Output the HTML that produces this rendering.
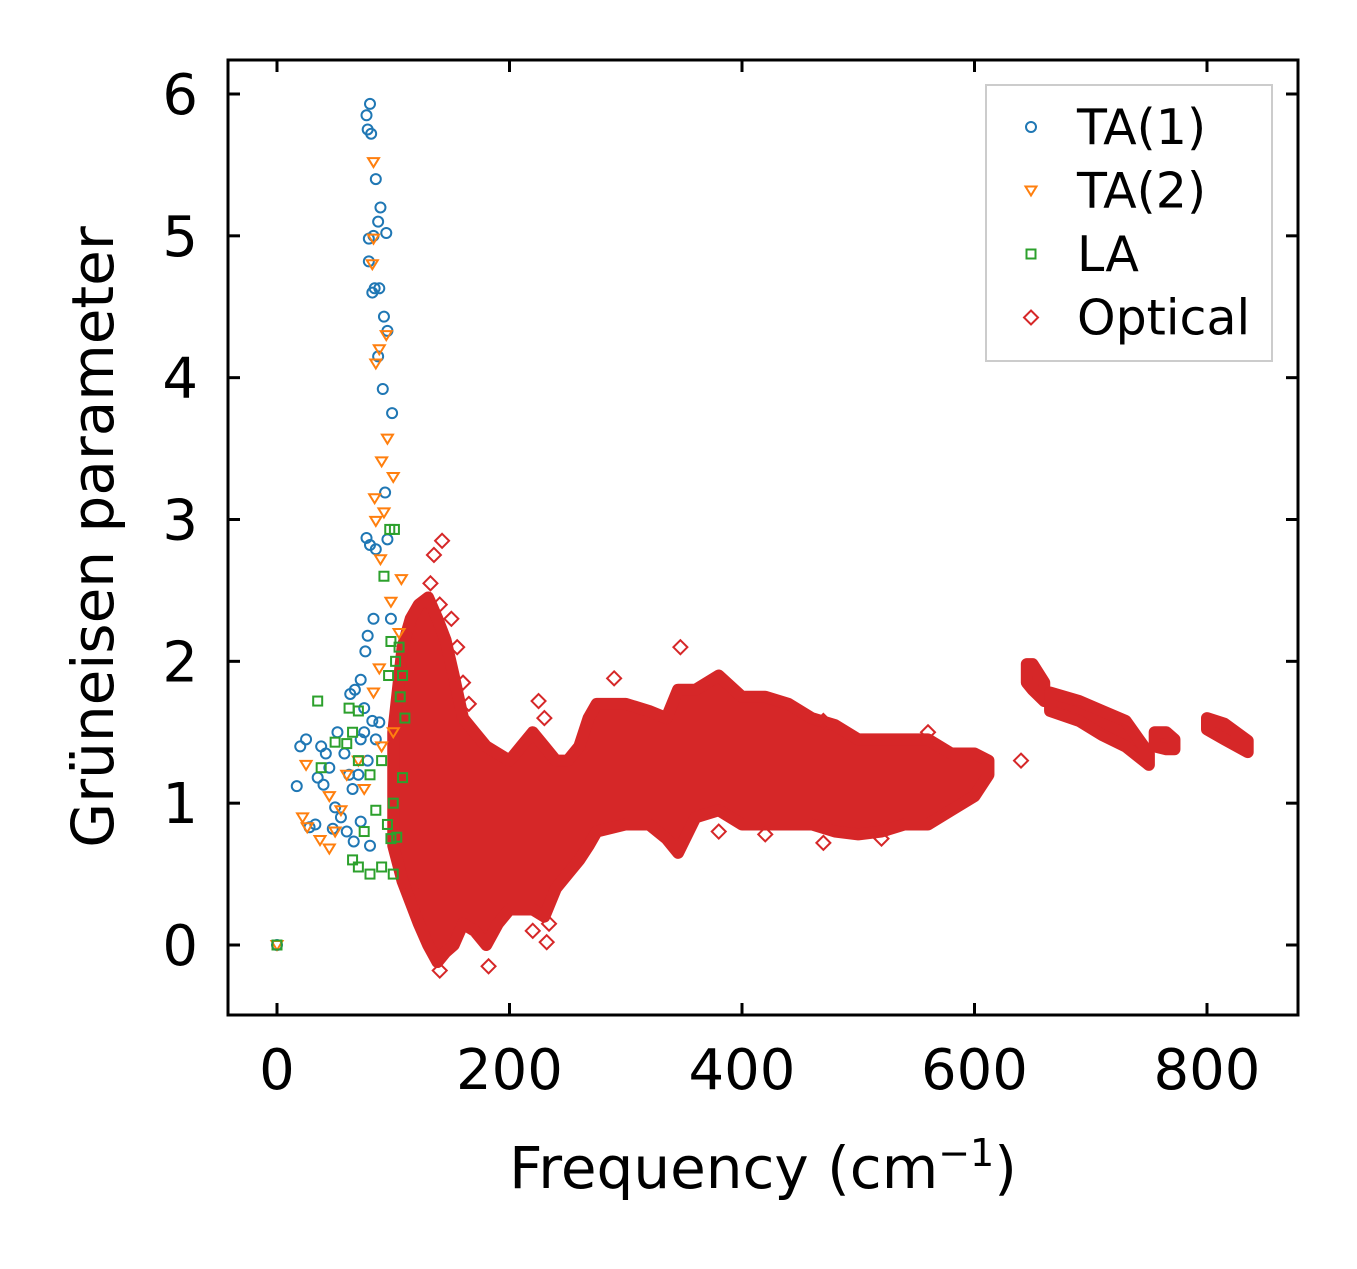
<!DOCTYPE html>
<html><head><meta charset="utf-8">
<style>
html,body{margin:0;padding:0;background:#fff;}
svg text{font-family:"DejaVu Sans","Liberation Sans",sans-serif;fill:#000;}
</style></head>
<body>
<svg id="chart" width="1357" height="1264" viewBox="0 0 1357 1264" xmlns="http://www.w3.org/2000/svg">
<g id="plot"></g>
</svg>
<script>
const xTicks=[0,200,400,600,800];
const yTicks=[0,1,2,3,4,5,6];
const ta1=[[80,5.93],[77,5.85],[78,5.75],[81,5.72],[85,5.4],[89,5.2],[87,5.1],[94,5.02],[79,4.98],[83,5.0],[79,4.82],[84,4.63],[88,4.63],[82,4.6],[92,4.43],[95,4.33],[87,4.15],[91,3.92],[99,3.75],[93,3.19],[77,2.87],[80,2.82],[85,2.79],[95,2.86],[83,2.3],[98,2.3],[78,2.18],[76,2.07],[67,1.8],[72,1.87],[75,1.67],[63,1.77],[20,1.4],[25,1.45],[38,1.4],[42,1.35],[17,1.12],[35,1.18],[40,1.13],[45,1.25],[52,1.5],[58,1.35],[62,1.2],[65,1.1],[70,1.2],[78,1.3],[85,1.45],[88,1.57],[82,1.58],[50,0.97],[55,0.9],[48,0.82],[33,0.85],[28,0.83],[60,0.8],[66,0.73],[72,0.87],[80,0.7],[75,1.5],[72,1.45],[0,0]];
const ta2=[[83,5.52],[83,4.98],[82,4.8],[94,4.3],[85,4.1],[88,4.2],[95,3.57],[100,3.3],[90,3.41],[84,3.15],[92,3.05],[85,2.99],[89,2.72],[107,2.58],[98,2.42],[105,2.2],[88,1.95],[83,1.78],[25,1.27],[22,0.9],[26,0.83],[37,0.74],[45,0.68],[50,0.8],[45,1.05],[55,0.95],[60,1.2],[70,1.3],[75,1.1],[90,1.4],[100,1.5],[0,0]];
const la=[[97,2.93],[101,2.93],[92,2.6],[98,2.14],[105,2.1],[102,2.0],[108,1.9],[106,1.75],[96,1.9],[35,1.72],[62,1.67],[70,1.65],[65,1.5],[60,1.42],[50,1.43],[70,1.3],[80,1.2],[90,1.3],[110,1.6],[108,1.18],[100,1.0],[95,0.85],[85,0.95],[75,0.8],[65,0.6],[70,0.55],[80,0.5],[90,0.55],[100,0.5],[98,0.75],[103,0.76],[38,1.25],[0,0]];
const optFreq=[100,108,115,122,130,138,145,152,160,170,180,190,200,210,220,230,240,250,260,268,275,300,320,335,345,360,380,400,420,440,460,480,500,520,540,560,580,600,612];
const optLow=[0.7,0.45,0.3,0.15,0.0,-0.12,-0.05,0.0,0.15,0.1,0.0,0.15,0.25,0.25,0.25,0.2,0.4,0.5,0.6,0.7,0.8,0.85,0.85,0.75,0.65,0.9,0.95,0.85,0.85,0.85,0.85,0.8,0.78,0.8,0.85,0.85,0.95,1.05,1.2];
const optHigh=[1.5,2.1,2.3,2.4,2.45,2.3,2.15,1.9,1.6,1.5,1.4,1.35,1.3,1.4,1.5,1.4,1.3,1.3,1.4,1.6,1.7,1.7,1.65,1.6,1.8,1.8,1.9,1.75,1.75,1.7,1.6,1.55,1.45,1.45,1.45,1.45,1.35,1.35,1.3];
const clusters=[
 {f:[645,650,660],lo:[1.85,1.8,1.72],hi:[1.98,1.98,1.85]},
 {f:[665,690,710,730,750],lo:[1.65,1.58,1.48,1.4,1.27],hi:[1.78,1.72,1.65,1.58,1.35]},
 {f:[755,765,772],lo:[1.4,1.38,1.38],hi:[1.5,1.5,1.45]},
 {f:[800,815,835],lo:[1.52,1.45,1.36],hi:[1.6,1.56,1.44]}];
const optOutliers=[[142,2.85],[135,2.75],[132,2.55],[140,2.4],[150,2.3],[155,2.1],[160,1.85],[165,1.7],[347,2.1],[290,1.88],[232,0.02],[234,0.15],[220,0.1],[182,-0.15],[140,-0.18],[225,1.72],[230,1.6],[470,1.58],[380,0.8],[420,0.78],[470,0.72],[520,0.75],[640,1.3],[560,1.5],[115,0.4],[120,2.2]];

const NS='http://www.w3.org/2000/svg';
const L=228,R=1298,T=60,B=1015;
const sx=v=>277+v*(1207-277)/800;
const sy=v=>945-v*(945-94)/6;
const g=document.getElementById('plot');
function mk(tag,attrs,parent){const e=document.createElementNS(NS,tag);for(const k in attrs)e.setAttribute(k,attrs[k]);(parent||g).appendChild(e);return e;}

const og=mk('g',{});


function band(f,lo,hi){
 let pts=[];for(let i=0;i<f.length;i++)pts.push(sx(f[i])+','+sy(hi[i]));
 for(let i=f.length-1;i>=0;i--)pts.push(sx(f[i])+','+sy(lo[i]));
 const p=mk('polygon',{points:pts.join(' '),fill:'#d62728',stroke:'#d62728','stroke-width':12,'stroke-linejoin':'round'},og);
 
 
}
band(optFreq,optLow,optHigh);
clusters.forEach(c=>band(c.f,c.lo,c.hi));
function diamond(x,y,par){const X=sx(x),Y=sy(y);const p=mk('polygon',{points:`${X},${Y-7} ${X+7},${Y} ${X},${Y+7} ${X-7},${Y}`,fill:'none',stroke:'#d62728','stroke-width':2},par);return p;}
optOutliers.forEach(d=>{const p=diamond(d[0],d[1],og);
 
 });

const cg=mk('g',{});


ta1.forEach(d=>{const c=mk('circle',{cx:sx(d[0]),cy:sy(d[1]),r:5,fill:'none',stroke:'#1f77b4','stroke-width':2},cg);
 
 });
const tg=mk('g',{});


ta2.forEach(d=>{const X=sx(d[0]),Y=sy(d[1]);const p=mk('polygon',{points:`${X-5.5},${Y-4} ${X+5.5},${Y-4} ${X},${Y+5}`,fill:'none',stroke:'#ff7f0e','stroke-width':2},tg);
 
 });
const lg=mk('g',{});


la.forEach(d=>{const r=mk('rect',{x:sx(d[0])-4.5,y:sy(d[1])-4.5,width:9,height:9,fill:'none',stroke:'#2ca02c','stroke-width':2},lg);
 
 });

const fr=mk('rect',{x:L,y:T,width:R-L,height:B-T,fill:'none',stroke:'#000','stroke-width':3});


xTicks.forEach(v=>{const X=sx(v);
 mk('line',{x1:X,x2:X,y1:B,y2:B-12,stroke:'#000','stroke-width':3});
 mk('line',{x1:X,x2:X,y1:T,y2:T+12,stroke:'#000','stroke-width':3});
 const t=mk('text',{x:X,y:B+74,'font-size':56,'text-anchor':'middle'});t.textContent=v;
 
 });
yTicks.forEach(v=>{const Y=sy(v);
 mk('line',{x1:L,x2:L+12,y1:Y,y2:Y,stroke:'#000','stroke-width':3});
 mk('line',{x1:R,x2:R-12,y1:Y,y2:Y,stroke:'#000','stroke-width':3});
 const t=mk('text',{x:L-30,y:Y+20,'font-size':56,'text-anchor':'end'});t.textContent=v;
 
 });

const xt=mk('text',{x:763,y:1188,'font-size':58,'text-anchor':'middle'});


xt.innerHTML='Frequency (cm<tspan dy="-22" font-size="38">−1</tspan><tspan dy="22">)</tspan>';
const yt=mk('text',{x:0,y:0,'font-size':58,'text-anchor':'middle',transform:'translate(113,537) rotate(-90)'});


yt.textContent='Grüneisen parameter';

const leg=mk('g',{});


mk('rect',{x:986,y:85,width:286,height:276,fill:'#fff','fill-opacity':0.8,stroke:'#ccc','stroke-width':2},leg);
const names=['TA(1)','TA(2)','LA','Optical'];
names.forEach((n,i)=>{const Y=127+i*63.5,X=1031;
 const e=mk('g',{},leg);
 
 
 if(i==0)mk('circle',{cx:X,cy:Y,r:5,fill:'none',stroke:'#1f77b4','stroke-width':2},e);
 if(i==1)mk('polygon',{points:`${X-5.5},${Y-4} ${X+5.5},${Y-4} ${X},${Y+5}`,fill:'none',stroke:'#ff7f0e','stroke-width':2},e);
 if(i==2)mk('rect',{x:X-4.5,y:Y-4.5,width:9,height:9,fill:'none',stroke:'#2ca02c','stroke-width':2},e);
 if(i==3)mk('polygon',{points:`${X},${Y-7} ${X+7},${Y} ${X},${Y+7} ${X-7},${Y}`,fill:'none',stroke:'#d62728','stroke-width':2},e);
 const t=mk('text',{x:1077,y:Y+17,'font-size':49},e);t.textContent=n;});
</script>
</body></html>
